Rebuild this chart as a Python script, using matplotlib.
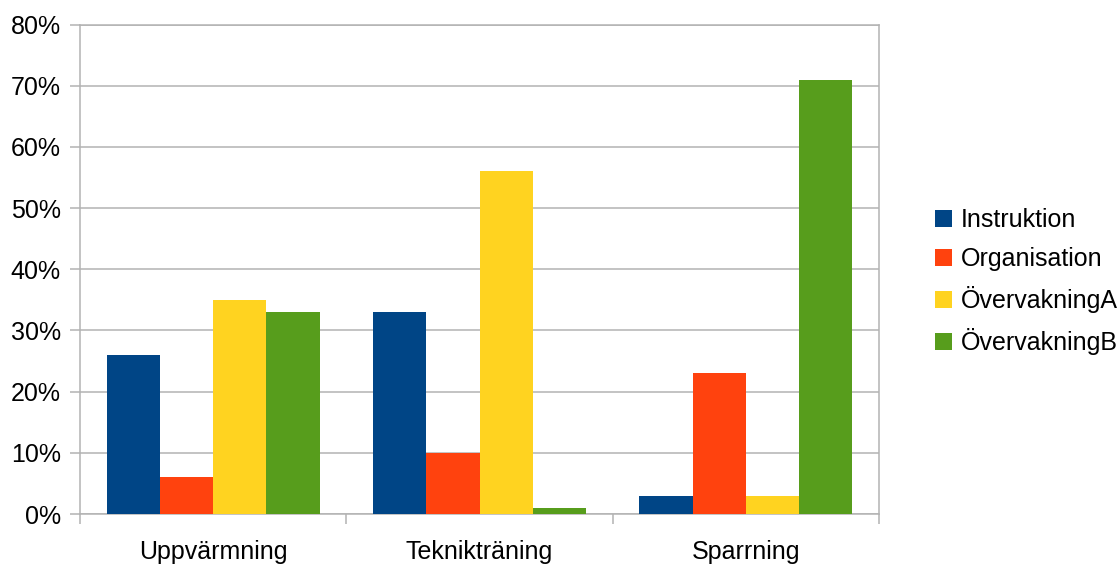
import matplotlib
matplotlib.use("Agg")
import matplotlib.pyplot as plt
import numpy as np
from matplotlib.ticker import FixedLocator, FuncFormatter

plt.rcParams['font.family'] = ['Liberation Sans', 'DejaVu Sans']

categories = ["Uppvärmning", "Teknikträning", "Sparrning"]
series_names = ["Instruktion", "Organisation", "ÖvervakningA", "ÖvervakningB"]
instruktion = [26, 33, 3]
organisation = [6, 10, 23]
overvakning_a = [35, 56, 3]
overvakning_b = [33, 1, 71]
series_values = [instruktion, organisation, overvakning_a, overvakning_b]
colors = ["#004586", "#ff420e", "#ffd320", "#579d1c"]
y_ticks = [0, 10, 20, 30, 40, 50, 60, 70, 80]

fig = plt.figure(figsize=(11.17, 5.65), dpi=100)
ax = fig.add_axes([80 / 1117, 51 / 565, 799 / 1117, 489.5 / 565])

x = np.arange(len(categories))
bar_w = 0.2
for i, (name, vals, col) in enumerate(zip(series_names, series_values, colors)):
    ax.bar(x - 0.3 + i * bar_w, vals, width=bar_w, color=col, label=name,
           zorder=3, linewidth=0)

grid_col = "#b3b3b3"
ax.set_xlim(-0.5, len(categories) - 0.5)
ax.set_ylim(0, 80)
ax.yaxis.set_major_locator(FixedLocator(y_ticks))
ax.yaxis.set_major_formatter(FuncFormatter(lambda v, p: f"{v:.0f}%"))
ax.grid(axis="y", color=grid_col, linewidth=1.1, zorder=0)

# category labels centred, tick marks at category boundaries
ax.set_xticks(x)
ax.set_xticklabels(categories)
ax.set_xticks(np.arange(len(categories) + 1) - 0.5, minor=True)
ax.tick_params(axis="x", which="major", length=0, pad=19, labelsize=18)
ax.tick_params(axis="x", which="minor", length=7.2, width=1.1, color=grid_col)
ax.tick_params(axis="y", length=7.2, width=1.1, color=grid_col, pad=6.5, labelsize=18)

for side in ["left", "right", "top", "bottom"]:
    ax.spines[side].set_color(grid_col)
    ax.spines[side].set_linewidth(1.1)

leg = ax.legend(loc="center left", bbox_to_anchor=(1.0425, 0.474), frameon=False,
                fontsize=18, handlelength=0.65, handleheight=0.65,
                handletextpad=0.35, labelspacing=0.6)

fig.savefig("out.png", dpi=100)
